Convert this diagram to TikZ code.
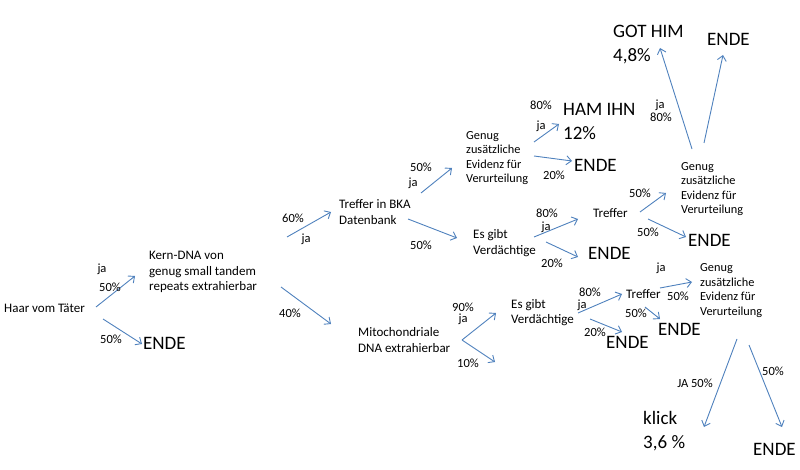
\documentclass[tikz,border=0pt]{standalone}
\usepackage{fontspec}
\setmainfont{Carlito}
\usetikzlibrary{arrows.meta}
\definecolor{arrblue}{RGB}{79,129,189}
\tikzset{
  txt/.style={anchor=west, inner sep=0pt, align=left, font=\fontsize{13}{15.5}\selectfont},
  gen/.style={anchor=west, inner sep=0pt, align=left, font=\fontsize{12.3}{14.6}\selectfont},
  big/.style={anchor=west, inner sep=0pt, align=left, font=\fontsize{19}{24}\selectfont},
  lbl/.style={inner sep=0pt, font=\fontsize{12.5}{14}\selectfont},
  arr/.style={draw=arrblue, line width=0.9pt, -{Straight Barb[length=5pt,width=9pt]}}
}
\begin{document}
\begin{tikzpicture}[x=1pt,y=-1pt]
\useasboundingbox (0,0) rectangle (800,470);
% nodes
\node[txt] (haar) at (4,308) {Haar vom Täter};
\node[txt] (kern) at (149,272) {Kern-DNA von\\genug small tandem\\repeats extrahierbar};
\node[big] (ende1) at (143,343) {ENDE};
\node[txt] (treffer1) at (339,212) {Treffer in BKA\\Datenbank};
\node[gen] (genug1) at (466,158) {Genug\\zusätzliche\\Evidenz für\\Verurteilung};
\node[big] (ham) at (563,121) {HAM IHN\\12\%};
\node[big] (ende2) at (574,165) {ENDE};
\node[txt] (esgibt1) at (473,243) {Es gibt\\Verdächtige};
\node[txt] (treffer2) at (593,213) {Treffer};
\node[big] (ende3) at (588,253) {ENDE};
\node[gen] (genug2) at (681,189) {Genug\\zusätzliche\\Evidenz für\\Verurteilung};
\node[big] (ende4) at (688,240) {ENDE};
\node[big] (got) at (613,45) {GOT HIM\\4,8\%};
\node[big] (ende5) at (707,39) {ENDE};
\node[txt] (mito) at (358,340) {Mitochondriale\\DNA extrahierbar};
\node[txt] (esgibt2) at (511,312.5) {Es gibt\\Verdächtige};
\node[txt] (treffer3) at (626,294) {Treffer};
\node[big] (ende6) at (606,342) {ENDE};
\node[big] (ende7) at (658,329) {ENDE};
\node[gen] (genug3) at (700,290.5) {Genug\\zusätzliche\\Evidenz für\\Verurteilung};
\node[big] (klick) at (643,431) {klick\\3,6 \%};
\node[big] (ende8) at (753,449) {ENDE};
% connector ends
\coordinate (a1s) at (96,307);   \coordinate (a1e) at (135,276);
\coordinate (a2s) at (103,319);  \coordinate (a2e) at (142,344);
\coordinate (a3s) at (287,237);  \coordinate (a3e) at (331,212);
\coordinate (a4s) at (281,287);  \coordinate (a4e) at (331,324);
\coordinate (a5s) at (421,193);  \coordinate (a5e) at (452,168);
\coordinate (a6s) at (408,219);  \coordinate (a6e) at (457,238);
\coordinate (a7s) at (534,142);  \coordinate (a7e) at (559,124);
\coordinate (a8s) at (534,156);  \coordinate (a8e) at (572,161);
\coordinate (a9s) at (534,237);  \coordinate (a9e) at (578,219);
\coordinate (a10s) at (546,242); \coordinate (a10e) at (578,257);
\coordinate (a11s) at (640,212); \coordinate (a11e) at (666,193);
\coordinate (a12s) at (648,219); \coordinate (a12e) at (686,237);
\coordinate (a13s) at (692,149); \coordinate (a13e) at (660,48);
\coordinate (a14s) at (704,143); \coordinate (a14e) at (723,55);
\coordinate (a15s) at (462,340); \coordinate (a15e) at (496,313);
\coordinate (a16e) at (495,362);
\coordinate (a17s) at (578,313); \coordinate (a17e) at (622,294);
\coordinate (a18s) at (590,319); \coordinate (a18e) at (622,332);
\coordinate (a19s) at (660,288); \coordinate (a19e) at (692,282);
\coordinate (a20s) at (645,307); \coordinate (a20e) at (660,319);
\coordinate (a21s) at (737,339); \coordinate (a21e) at (704,427);
\coordinate (a22s) at (749,345); \coordinate (a22e) at (782,427);
% connectors
\draw[arr] (a1s) -- (a1e);
\draw[arr] (a2s) -- (a2e);
\draw[arr] (a3s) -- (a3e);
\draw[arr] (a4s) -- (a4e);
\draw[arr] (a5s) -- (a5e);
\draw[arr] (a6s) -- (a6e);
\draw[arr] (a7s) -- (a7e);
\draw[arr] (a8s) -- (a8e);
\draw[arr] (a9s) -- (a9e);
\draw[arr] (a10s) -- (a10e);
\draw[arr] (a11s) -- (a11e);
\draw[arr] (a12s) -- (a12e);
\draw[arr] (a13s) -- (a13e);
\draw[arr] (a14s) -- (a14e);
\draw[arr] (a15s) -- (a15e);
\draw[arr] (a15s) -- (a16e);
\draw[arr] (a17s) -- (a17e);
\draw[arr] (a18s) -- (a18e);
\draw[arr] (a19s) -- (a19e);
\draw[arr] (a20s) -- (a20e);
\draw[arr] (a21s) -- (a21e);
\draw[arr] (a22s) -- (a22e);
% labels
\node[lbl] (l1) at (102,269) {ja};
\node[lbl] (l2) at (110,287) {50\%};
\node[lbl] (l3) at (111,339) {50\%};
\node[lbl] (l4) at (293,218) {60\%};
\node[lbl] (l5) at (306,239) {ja};
\node[lbl] (l6) at (290,313) {40\%};
\node[lbl] (l7) at (421,167) {50\%};
\node[lbl] (l8) at (413,183) {ja};
\node[lbl] (l9) at (421,245) {50\%};
\node[lbl] (l10) at (541,105) {80\%};
\node[lbl] (l11) at (541,126) {ja};
\node[lbl] (l12) at (554,175) {20\%};
\node[lbl] (l13) at (547,213) {80\%};
\node[lbl] (l14) at (546,227) {ja};
\node[lbl] (l15) at (552,263) {20\%};
\node[lbl] (l16) at (640,193) {50\%};
\node[lbl] (l17) at (648,232) {50\%};
\node[lbl] (l18) at (660,105) {ja};
\node[lbl] (l19) at (661,117) {80\%};
\node[lbl] (l20) at (463,307) {90\%};
\node[lbl] (l21) at (463,319) {ja};
\node[lbl] (l22) at (468,363) {10\%};
\node[lbl] (l23) at (590,292) {80\%};
\node[lbl] (l24) at (582,305) {ja};
\node[lbl] (l25) at (595,332) {20\%};
\node[lbl] (l26) at (661,268) {ja};
\node[lbl] (l27) at (678,296) {50\%};
\node[lbl] (l28) at (636,313) {50\%};
\node[lbl] (l29) at (695,383) {JA 50\%};
\node[lbl] (l30) at (773,371) {50\%};
\end{tikzpicture}
\end{document}
